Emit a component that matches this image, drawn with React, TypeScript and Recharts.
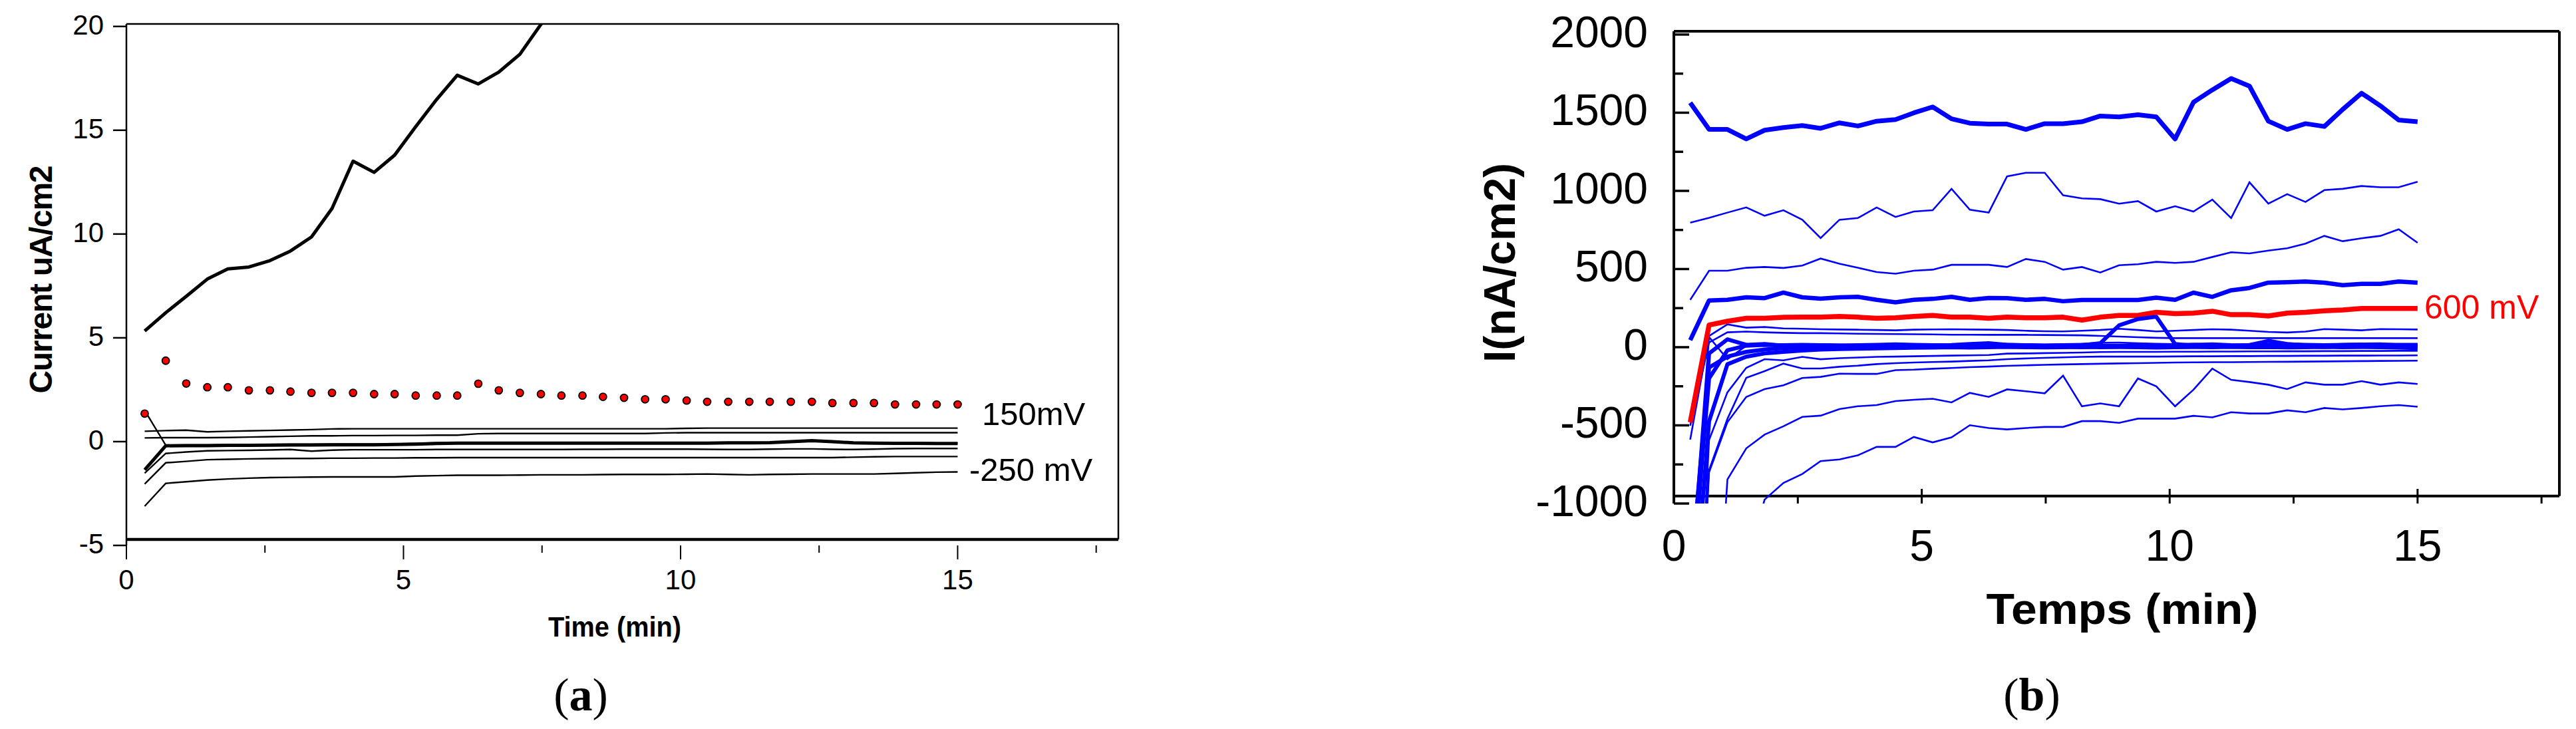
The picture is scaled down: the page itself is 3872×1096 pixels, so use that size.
import React from "react";
import { LineChart, Line, XAxis, YAxis, ReferenceLine } from "recharts";

// sampling times (min), shared by both panels
const T = [0.33, 0.71, 1.08, 1.46, 1.83, 2.21, 2.59, 2.96, 3.34, 3.71, 4.09, 4.47, 4.84, 5.22, 5.6, 5.97, 6.35, 6.72, 7.1, 7.48, 7.85, 8.23, 8.6, 8.98, 9.36, 9.73, 10.11, 10.48, 10.86, 11.24, 11.61, 11.99, 12.37, 12.74, 13.12, 13.49, 13.87, 14.25, 14.62, 15.0];

// ---- panel (a), uA/cm2 ----
const A_TOP = [5.33, 6.21, 7.0, 7.83, 8.32, 8.41, 8.72, 9.18, 9.86, 11.23, 13.51, 12.97, 13.8, 15.17, 16.49, 17.65, 17.23, 17.8, 18.66, 20.1, 21.6, null, null, null, null, null, null, null, null, null, null, null, null, null, null, null, null, null, null, null];
const A_DOTS = [1.35, 3.9, 2.8, 2.62, 2.62, 2.47, 2.47, 2.41, 2.35, 2.35, 2.35, 2.29, 2.29, 2.22, 2.22, 2.22, 2.79, 2.47, 2.35, 2.29, 2.22, 2.22, 2.16, 2.11, 2.04, 2.04, 1.98, 1.92, 1.92, 1.92, 1.92, 1.92, 1.92, 1.86, 1.86, 1.86, 1.79, 1.79, 1.79, 1.79];
const A1 = [0.5, 0.53, 0.55, 0.47, 0.5, 0.52, 0.54, 0.56, 0.58, 0.61, 0.62, 0.62, 0.62, 0.62, 0.62, 0.62, 0.62, 0.62, 0.62, 0.62, 0.62, 0.62, 0.62, 0.62, 0.62, 0.62, 0.64, 0.65, 0.65, 0.65, 0.65, 0.65, 0.65, 0.65, 0.65, 0.65, 0.65, 0.65, 0.65, 0.65];
const A2 = [0.18, 0.19, 0.19, 0.19, 0.2, 0.22, 0.24, 0.26, 0.28, 0.28, 0.29, 0.29, 0.3, 0.3, 0.31, 0.31, 0.38, 0.39, 0.39, 0.39, 0.39, 0.39, 0.39, 0.39, 0.39, 0.42, 0.43, 0.43, 0.43, 0.43, 0.43, 0.43, 0.43, 0.43, 0.43, 0.43, 0.43, 0.43, 0.43, 0.43];
const A3 = [-1.36, -0.2, -0.19, -0.19, -0.18, -0.18, -0.17, -0.16, -0.16, -0.15, -0.15, -0.15, -0.14, -0.12, -0.09, -0.07, -0.07, -0.07, -0.07, -0.07, -0.07, -0.07, -0.07, -0.07, -0.07, -0.07, -0.07, -0.07, -0.06, -0.06, -0.05, 0.0, 0.05, 0.0, -0.06, -0.07, -0.08, -0.08, -0.09, -0.09];
const A3B = [1.5, -0.17, -0.16, -0.16, -0.15, -0.15, -0.14, -0.13, -0.13, -0.12, -0.12, -0.12, -0.11, -0.09, -0.06, -0.05, -0.05, -0.05, -0.05, -0.05, -0.05, -0.05, -0.05, -0.05, -0.05, -0.05, -0.05, -0.05, -0.04, -0.04, -0.03, 0.02, 0.06, 0.02, -0.04, -0.05, -0.06, -0.06, -0.07, -0.07];
const A4 = [-1.52, -0.57, -0.5, -0.44, -0.43, -0.42, -0.4, -0.38, -0.46, -0.41, -0.39, -0.39, -0.39, -0.39, -0.38, -0.38, -0.38, -0.38, -0.38, -0.38, -0.38, -0.37, -0.37, -0.36, -0.36, -0.36, -0.36, -0.37, -0.38, -0.38, -0.36, -0.35, -0.35, -0.37, -0.38, -0.36, -0.34, -0.33, -0.33, -0.33];
const A5 = [-2.04, -1.02, -0.95, -0.87, -0.85, -0.83, -0.82, -0.81, -0.81, -0.8, -0.8, -0.79, -0.79, -0.78, -0.78, -0.77, -0.77, -0.77, -0.77, -0.77, -0.77, -0.77, -0.77, -0.77, -0.77, -0.77, -0.77, -0.77, -0.77, -0.77, -0.77, -0.77, -0.77, -0.77, -0.75, -0.73, -0.72, -0.72, -0.72, -0.72];
const A6 = [-3.11, -2.01, -1.93, -1.85, -1.8, -1.76, -1.73, -1.72, -1.71, -1.7, -1.7, -1.7, -1.7, -1.66, -1.64, -1.62, -1.62, -1.62, -1.61, -1.6, -1.6, -1.6, -1.59, -1.58, -1.58, -1.58, -1.57, -1.56, -1.58, -1.6, -1.58, -1.57, -1.56, -1.56, -1.56, -1.56, -1.53, -1.5, -1.47, -1.46];
const A_XTICKS = [0, 2.5, 5, 7.5, 10, 12.5, 15, 17.5];
const A_YTICKS = [-5, 0, 5, 10, 15, 20];

// ---- panel (b), nA/cm2 ----
const B1 = [1564, 1393, 1393, 1332, 1388, 1405, 1418, 1400, 1435, 1415, 1446, 1456, 1499, 1537, 1461, 1433, 1427, 1427, 1393, 1430, 1430, 1442, 1479, 1473, 1487, 1473, 1332, 1567, 1646, 1719, 1670, 1446, 1393, 1430, 1412, 1521, 1625, 1544, 1453, 1442];
const B2 = [797, 827, 861, 894, 841, 876, 815, 698, 815, 826, 894, 833, 868, 876, 1013, 879, 861, 1093, 1116, 1116, 972, 952, 947, 918, 934, 868, 902, 868, 944, 826, 1055, 918, 979, 929, 1005, 1013, 1031, 1023, 1023, 1058];
const B3 = [303, 489, 489, 508, 513, 507, 522, 567, 534, 508, 481, 470, 489, 496, 527, 527, 527, 513, 564, 546, 496, 513, 478, 524, 531, 546, 539, 546, 577, 607, 600, 618, 633, 663, 712, 678, 697, 712, 754, 668];
const B4 = [45, 299, 303, 319, 314, 349, 319, 311, 319, 322, 303, 287, 303, 309, 322, 303, 315, 314, 303, 309, 294, 302, 302, 302, 302, 317, 303, 349, 322, 364, 379, 413, 416, 420, 413, 397, 405, 405, 420, 413];
const RED600 = [-481, 142, 166, 185, 185, 191, 192, 192, 197, 192, 185, 188, 197, 203, 192, 192, 185, 192, 188, 188, 192, 173, 192, 203, 203, 223, 215, 218, 230, 208, 208, 200, 218, 223, 233, 238, 248, 248, 248, 248];
const P1 = [-591, 72, 146, 125, 129, 120, 118, 115, 113, 112, 110, 108, 112, 114, 115, 113, 112, 110, 105, 102, 101, 105, 110, 118, 110, 101, 105, 110, 115, 112, 105, 98, 94, 100, 116, 112, 108, 116, 115, 113];
const P2 = [-502, 30, 95, 100, 95, 92, 90, 90, 88, 86, 85, 84, 83, 82, 80, 80, 79, 79, 79, 78, 77, 76, 72, 68, 64, 60, 58, 58, 58, 58, 58, 58, 58, 58, 58, 58, 58, 58, 58, 58];
const ZZ = [-1500, 65, -77, 9, 15, 20, 22, 20, 18, 20, 22, 25, 22, 20, 18, 20, 25, 22, 20, 18, 20, 22, 28, 30, 25, 22, 20, 22, 25, 20, 18, 22, 25, 22, 20, 22, 24, 22, 20, 18];
const Z1 = [-1500, -130, -60, -30, -15, -5, 0, -5, 0, 5, 0, 3, 6, 2, 0, 5, 8, 4, 2, 5, 3, 0, 4, 6, 3, 2, 5, 8, 6, 4, 3, 5, 7, 4, 2, 6, 8, 5, 3, 5];
const Z2 = [-1800, -40, 50, 15, 20, 10, 8, 12, 10, 8, 10, 12, 9, 11, 14, 20, 25, 15, 12, 10, 12, 14, 10, 8, 12, 10, 12, 15, 12, 10, 14, 40, 20, 12, 10, 14, 16, 18, 12, 0];
const Z3 = [-2000, -474, -109, -61, -40, -30, -21, -15, -12, -10, -8, -5, -3, -2, 0, -2, 0, 2, 0, -1, 0, 2, 0, 1, 0, -2, 0, 1, 0, 2, 0, 1, -1, 0, 2, 0, 1, 0, -2, -5];
const ZB = [-1600, -200, -20, 10, 15, 12, 10, 12, 10, 8, 10, 8, 10, 12, 10, 8, 10, 12, 10, 8, 10, 12, 25, 140, 180, 195, 20, 10, 12, 10, 8, 10, 12, 10, 8, 10, 12, 14, 15, 15];
const N1 = [-3000, -594, -289, -132, -77, -84, -62, -77, -70, -66, -62, -60, -58, -56, -54, -52, -50, -41, -40, -38, -36, -34, -31, -30, -30, -30, -29, -29, -28, -28, -27, -27, -26, -26, -25, -25, -24, -24, -23, -23];
const N2 = [-3000, -786, -459, -196, -153, -105, -136, -136, -125, -118, -108, -102, -98, -95, -92, -88, -84, -77, -72, -68, -65, -62, -60, -60, -60, -60, -59, -58, -58, -57, -57, -56, -56, -55, -55, -54, -54, -53, -53, -52];
const N3 = [-3000, -800, -480, -318, -268, -244, -197, -190, -169, -171, -171, -147, -144, -138, -133, -128, -124, -119, -116, -113, -110, -108, -106, -104, -102, -100, -98, -97, -96, -96, -95, -94, -93, -92, -91, -90, -89, -88, -87, -86];
const W1 = [-3200, -2700, -846, -647, -559, -506, -446, -438, -396, -378, -370, -345, -336, -330, -353, -292, -318, -270, -282, -295, -182, -378, -360, -378, -200, -250, -378, -272, -137, -209, -223, -240, -268, -225, -240, -240, -217, -240, -225, -235];
const W2 = [-3500, -2800, -2000, -1400, -975, -868, -811, -729, -718, -692, -638, -638, -574, -609, -577, -499, -517, -526, -517, -510, -510, -473, -473, -484, -457, -457, -457, -439, -449, -416, -424, -424, -404, -416, -389, -398, -389, -378, -370, -381];
const B_XTICKS = [0, 2.5, 5, 7.5, 10, 12.5, 15, 17.5];
const B_YTICKS = [-1000, -750, -500, -250, 0, 250, 500, 750, 1000, 1250, 1500, 1750, 2000];

const SANS = "'Liberation Sans', Arial, Helvetica, sans-serif";
const SERIF = "'Liberation Serif', 'Times New Roman', serif";
const BLUE = "#0000ff";

const dataA = T.map((t, i) => ({
  t, top: A_TOP[i], dots: A_DOTS[i], a1: A1[i], a2: A2[i], a3: A3[i], a3b: A3B[i], a4: A4[i], a5: A5[i], a6: A6[i],
}));

const dataB = T.map((t, i) => ({
  t, b1: B1[i], b2: B2[i], b3: B3[i], b4: B4[i], red: RED600[i], p1: P1[i], p2: P2[i], zz: ZZ[i],
  z1: Z1[i], z2: Z2[i], z3: Z3[i], zb: ZB[i], n1: N1[i], n2: N2[i], n3: N3[i], w1: W1[i], w2: W2[i],
}));

function ATickX(props: any) {
  const { x, y, payload } = props;
  const major = payload.value % 5 === 0;
  return (
    <g>
      <line x1={x} x2={x} y1={y} y2={y + (major ? 21 : 11)} stroke="#000" strokeWidth={2} />
      {major && (
        <text x={x} y={y + 66} textAnchor="middle" fontSize={42} fontFamily={SANS} fill="#000">{payload.value}</text>
      )}
    </g>
  );
}

function ATickY(props: any) {
  const { x, y, payload } = props;
  return (
    <g>
      <line x1={x - 20} x2={x} y1={y} y2={y} stroke="#000" strokeWidth={2.5} />
      <text x={x - 34} y={y + 12} textAnchor="end" fontSize={42} fontFamily={SANS} fill="#000">{payload.value}</text>
    </g>
  );
}

function BTickX(props: any) {
  const { x, y, payload } = props;
  const major = payload.value % 5 === 0;
  return (
    <g>
      <line x1={x} x2={x} y1={y - (major ? 22 : 11)} y2={y} stroke="#000" strokeWidth={3} />
      {major && (
        <text x={x} y={y + 86} textAnchor="middle" fontSize={66} fontFamily={SANS} fill="#000">{payload.value}</text>
      )}
    </g>
  );
}

function BTickY(props: any) {
  const { x, y, payload } = props;
  const major = payload.value % 500 === 0;
  return (
    <g>
      <line x1={x} x2={x + (major ? 23 : 14)} y1={y} y2={y} stroke="#000" strokeWidth={3.5} />
      {major && (
        <text x={x - 39} y={y + 19} textAnchor="end" fontSize={66} fontFamily={SANS} fill="#000">{payload.value}</text>
      )}
    </g>
  );
}

function thin(key: string, color: string, w = 2.6) {
  return <Line key={key} type="linear" dataKey={key} stroke={color} strokeWidth={w} dot={false} activeDot={false} isAnimationActive={false} />;
}

function thick(key: string, color: string, w: number) {
  return <Line key={key} type="linear" dataKey={key} stroke={color} strokeWidth={w} strokeLinejoin="round" dot={false} activeDot={false} isAnimationActive={false} />;
}

function PanelA() {
  return (
    <LineChart width={1760} height={1096} data={dataA} margin={{ top: 36, right: 79, bottom: 0, left: 0 }}>
      <XAxis dataKey="t" type="number" domain={[0, 17.9]} ticks={A_XTICKS} interval={0} allowDataOverflow
        axisLine={false} tickLine={false} tickSize={0} tickMargin={0} height={276} tick={<ATickX />} />
      <YAxis type="number" domain={[-5, 20.12]} ticks={A_YTICKS} interval={0} allowDataOverflow width={190}
        axisLine={{ stroke: "#000", strokeWidth: 2.5 }} tickLine={false} tickSize={0} tickMargin={0} tick={<ATickY />} />
      <ReferenceLine y={20.12} stroke="#000" strokeWidth={2.5} ifOverflow="visible" />
      <ReferenceLine segment={[{ x: 17.9, y: -4.71 }, { x: 17.9, y: 20.12 }]} stroke="#000" strokeWidth={2.5} ifOverflow="visible" />
      <ReferenceLine y={-4.71} stroke="#000" strokeWidth={4.5} ifOverflow="visible" />
      {thin("a1", "#000", 2.4)}
      {thin("a2", "#000", 2.4)}
      {thin("a4", "#000", 2.4)}
      {thin("a5", "#000", 2.4)}
      {thin("a6", "#000", 2.4)}
      {thick("a3", "#000", 5)}
      {thin("a3b", "#000", 2.4)}
      {thick("top", "#000", 5)}
      <Line type="linear" dataKey="dots" stroke="none" isAnimationActive={false} activeDot={false}
        dot={{ r: 5.5, fill: "#ff0000", stroke: "#000", strokeWidth: 1.8 }} />
    </LineChart>
  );
}

function PanelB() {
  return (
    <LineChart width={1672} height={1096} data={dataB} margin={{ top: 47, right: 25, bottom: 0, left: 0 }}>
      <XAxis dataKey="t" type="number" domain={[0, 17.86]} ticks={B_XTICKS} interval={0} allowDataOverflow
        axisLine={false} tickLine={false} tickSize={0} tickMargin={0} height={339} tick={<BTickX />} />
      <YAxis type="number" domain={[-1000, 2021]} ticks={B_YTICKS} interval={0} allowDataOverflow width={316}
        axisLine={{ stroke: "#000", strokeWidth: 4 }} tickLine={false} tickSize={0} tickMargin={0} tick={<BTickY />} />
      <ReferenceLine y={2021} stroke="#000" strokeWidth={4} ifOverflow="visible" />
      <ReferenceLine segment={[{ x: 17.86, y: -952 }, { x: 17.86, y: 2021 }]} stroke="#000" strokeWidth={4} ifOverflow="visible" />
      <ReferenceLine y={-952} stroke="#000" strokeWidth={4} ifOverflow="visible" />
      {thin("b2", BLUE)}
      {thin("b3", BLUE)}
      {thin("p1", BLUE)}
      {thin("p2", BLUE)}
      {thin("n1", BLUE)}
      {thin("n2", BLUE)}
      {thin("n3", BLUE)}
      {thin("w1", BLUE)}
      {thin("w2", BLUE)}
      {thin("zz", BLUE)}
      {thick("z1", BLUE, 6)}
      {thick("z2", BLUE, 6)}
      {thick("z3", BLUE, 6)}
      {thick("b4", BLUE, 6.5)}
      {thick("b1", BLUE, 7)}
      {thick("red", "#ff0000", 7.5)}
      {thick("zb", BLUE, 6)}
    </LineChart>
  );
}

export default function App() {
  return (
    <div style={{ position: "absolute", left: 0, top: 0, width: 3872, height: 1096, background: "#fff", overflow: "hidden" }}>
      <div style={{ position: "absolute", left: 0, top: 0 }}>
        <PanelA />
      </div>
      <div style={{ position: "absolute", left: 2200, top: 0 }}>
        <PanelB />
      </div>
      <svg width={3872} height={1096} style={{ position: "absolute", left: 0, top: 0, pointerEvents: "none" }}>
        <text transform="translate(78,420) rotate(-90)" textAnchor="middle" fontSize={48} fontWeight="bold"
          fontFamily={SANS} textLength={343} lengthAdjust="spacing">Current  uA/cm2</text>
        <text x={924} y={957} textAnchor="middle" fontSize={42} fontWeight="bold" fontFamily={SANS}
          textLength={200} lengthAdjust="spacingAndGlyphs">Time (min)</text>
        <text x={1476} y={639} fontSize={49} fontFamily={SANS}>150mV</text>
        <text x={1457} y={723} fontSize={49} fontFamily={SANS}>-250 mV</text>
        <text x={873} y={1068} textAnchor="middle" fontSize={70} fontFamily={SERIF}>
          (<tspan fontWeight="bold">a</tspan>)
        </text>

        <text transform="translate(2277,395) rotate(-90)" textAnchor="middle" fontSize={66} fontWeight="bold"
          fontFamily={SANS} textLength={300} lengthAdjust="spacingAndGlyphs">I(nA/cm2)</text>
        <text x={3190} y={938} textAnchor="middle" fontSize={64} fontWeight="bold" fontFamily={SANS}
          textLength={409} lengthAdjust="spacingAndGlyphs">Temps (min)</text>
        <text x={3644} y={479} fontSize={50} fontFamily={SANS} fill="#ff0000">600 mV</text>
        <text x={3054} y={1068} textAnchor="middle" fontSize={70} fontFamily={SERIF}>
          (<tspan fontWeight="bold">b</tspan>)
        </text>
      </svg>
    </div>
  );
}
